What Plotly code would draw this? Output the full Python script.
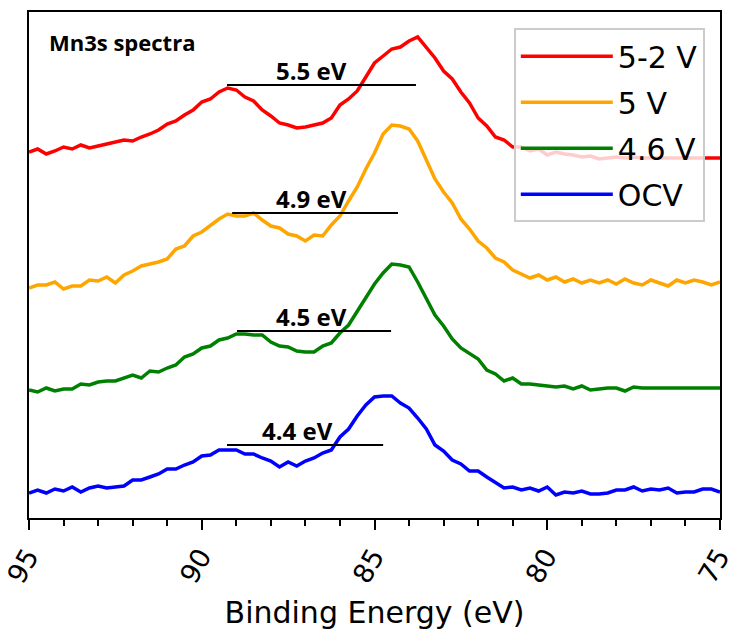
import plotly.graph_objects as go

# Binding energy grid (eV), 95 -> 75 in 0.25 eV steps
energy = [95 - 0.25 * i for i in range(81)]

series_names = ["5-2 V", "5 V", "4.6 V", "OCV"]
series_colors = ["#ff0000", "#ffa500", "#008000", "#0000ff"]

red_52V = [366, 369, 364, 367, 371, 369, 373, 370, 372, 374, 376, 378, 377, 381, 384, 388, 394, 397, 403, 408,
           416, 419, 426, 430, 428, 421, 417, 408, 402, 395, 393, 390, 391, 393, 395, 400, 413, 419, 427, 441,
           455, 462, 469, 471, 477, 481, 470, 460, 447, 439, 426, 415, 400, 392, 381, 378, 371, 371, 367, 369,
           363, 366, 364, 363, 361, 362, 359, 360, 361, 360, 361, 360, 360, 360, 360, 360, 360, 360, 360, 360, 360]

orange_5V = [230, 233, 233, 236, 229, 232, 232, 238, 237, 241, 235, 243, 247, 252, 254, 256, 259, 269, 272, 282,
             286, 293, 299, 304, 302, 302, 305, 298, 292, 290, 284, 282, 277, 283, 282, 293, 302, 317, 331, 349,
             365, 384, 393, 392, 389, 377, 357, 339, 326, 315, 299, 289, 277, 270, 260, 256, 248, 244, 240, 243,
             238, 241, 236, 239, 235, 238, 235, 238, 234, 239, 235, 233, 238, 235, 232, 238, 235, 238, 236, 233, 236]

green_46V = [128, 126, 130, 127, 129, 129, 134, 133, 136, 137, 137, 140, 143, 140, 147, 146, 150, 153, 161, 164,
             170, 172, 178, 180, 184, 184, 183, 183, 176, 172, 171, 167, 166, 166, 172, 175, 185, 193, 207, 220,
             234, 245, 254, 253, 251, 236, 220, 203, 192, 179, 170, 164, 159, 148, 144, 137, 140, 134, 134, 133,
             132, 131, 132, 129, 132, 128, 129, 130, 130, 127, 131, 130, 130, 130, 130, 130, 130, 130, 130, 130, 130]

blue_OCV = [25, 28, 25, 29, 27, 31, 26, 30, 32, 30, 31, 32, 38, 38, 41, 44, 49, 49, 53, 56,
            62, 63, 68, 68, 68, 64, 64, 60, 57, 51, 56, 52, 57, 60, 65, 68, 81, 89, 102, 113,
            121, 122, 122, 115, 110, 100, 89, 73, 67, 58, 54, 47, 47, 41, 36, 30, 31, 28, 30, 27,
            31, 23, 26, 25, 27, 24, 24, 25, 28, 28, 31, 27, 29, 28, 30, 25, 26, 26, 29, 29, 26]

series_values = [red_52V, orange_5V, green_46V, blue_OCV]

# Multiplet splitting markers
split_labels = ["5.5 eV", "4.9 eV", "4.5 eV", "4.4 eV"]
split_x0 = [89.27, 89.12, 88.98, 89.27]
split_x1 = [83.80, 84.32, 84.52, 84.75]
split_y = [433, 305, 187, 73]
split_label_x = [86.81, 86.81, 86.81, 87.24]

tick_vals = [95, 90, 85, 80, 75]
tick_text = ["95", "90", "85", "80", "75"]

fig = go.Figure()
for name, color, vals in zip(series_names, series_colors, series_values):
    fig.add_trace(go.Scatter(x=energy, y=vals, mode="lines", name=name, legendgroup=name,
                             line=dict(color=color, width=3.5)))

for lab, x0, x1, y, lx in zip(split_labels, split_x0, split_x1, split_y, split_label_x):
    fig.add_shape(type="line", xref="x", yref="y", x0=x0, x1=x1, y0=y, y1=y,
                  line=dict(color="black", width=2))
    fig.add_annotation(x=lx, y=y, xref="x", yref="y", text=lab, showarrow=False,
                       xanchor="center", yanchor="bottom", yshift=-4,
                       font=dict(family="Open Sans", size=24, color="black", weight="bold"))

fig.add_annotation(x=0.026, y=0.975, xref="paper", yref="paper", text="Mn3s spectra",
                   showarrow=False, xanchor="left", yanchor="top",
                   font=dict(family="Open Sans", size=22, color="black", weight="bold"))

fig.update_layout(
    width=735, height=635,
    margin=dict(l=29, r=15, t=12, b=117, autoexpand=False),
    paper_bgcolor="white", plot_bgcolor="white",
    font=dict(family="DejaVu Sans", color="black"),
    legend=dict(x=0.978, y=0.968, xanchor="right", yanchor="top",
                bgcolor="rgba(255,255,255,0.8)", bordercolor="#cccccc", borderwidth=2,
                font=dict(family="DejaVu Sans", size=30, color="black"),
                traceorder="grouped", tracegroupgap=4, itemwidth=92),
    showlegend=True,
)

fig.update_xaxes(range=[95, 75], tickmode="array", tickvals=tick_vals, ticktext=tick_text,
                 tickangle=-60, tickfont=dict(family="DejaVu Sans", size=27),
                 ticklabeloverflow="allow", automargin=False, ticklabelshift=1,
                 ticks="outside", ticklen=10, tickwidth=2, tickcolor="black",
                 minor=dict(dtick=1, ticks="outside", ticklen=6, tickwidth=2, tickcolor="black"),
                 showline=True, linewidth=2, linecolor="black", mirror=True,
                 showgrid=False, zeroline=False,
                 title=dict(text="Binding Energy (eV)", font=dict(family="DejaVu Sans", size=30),
                            standoff=15))
fig.update_yaxes(range=[0, 506], showticklabels=False, ticks="", showgrid=False, zeroline=False,
                 automargin=False,
                 showline=True, linewidth=2, linecolor="black", mirror=True)

fig.write_html("out.html")
